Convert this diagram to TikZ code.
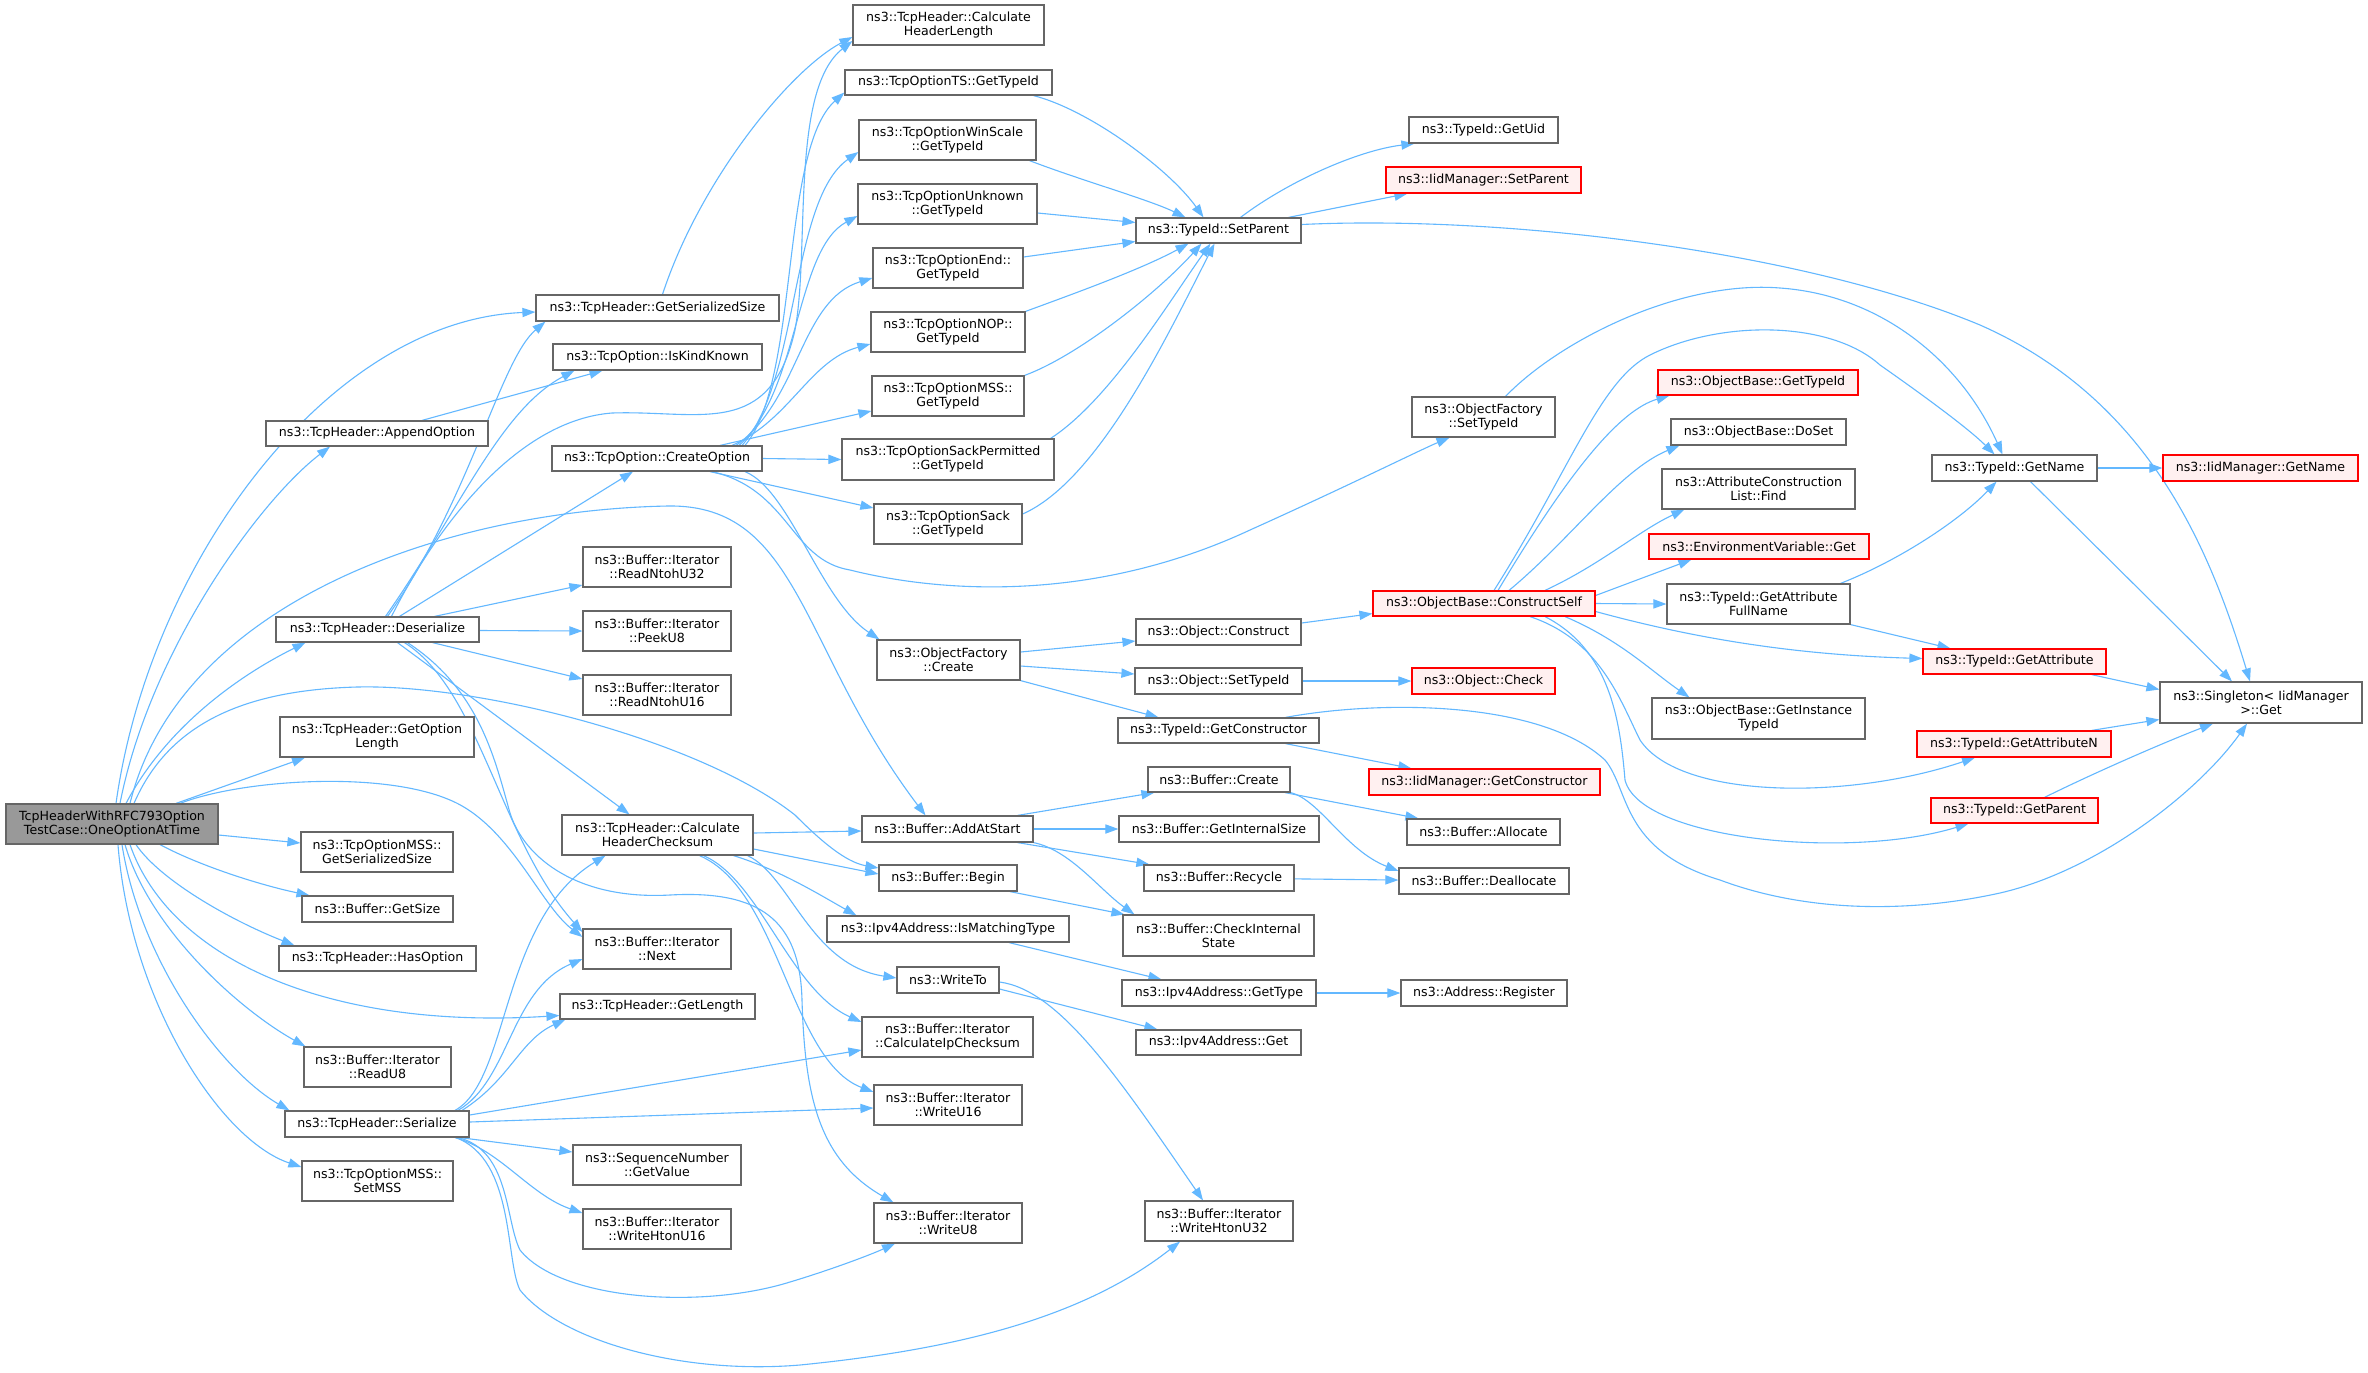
\documentclass[tikz,border=0pt]{standalone}
\usepackage{fontspec}
\setmainfont{DejaVu Sans}
\usetikzlibrary{arrows.meta,calc,backgrounds}
\definecolor{edgc}{HTML}{63B8FF}
\definecolor{bordc}{HTML}{666666}
\definecolor{redfill}{HTML}{FFF0F0}
\definecolor{rootfill}{HTML}{999999}
\tikzset{
  nbox/.style={draw=bordc, fill=white, line width=0.6pt, inner sep=0pt, align=center, font=\fontsize{6.3}{7}\selectfont},
  rbox/.style={nbox, draw=red, fill=redfill},
  gbox/.style={nbox, fill=rootfill},
  edg/.style={draw=edgc, line width=0.55pt, -{Triangle[length=6.5pt,width=4.6pt]}}
}
\newcommand\mkbox[7][nbox]{\node[#1, minimum width={(#4-#2)*0.5pt}, minimum height={(#5-#3)*0.5pt}] (#6) at ({(#2+#4)/2},{(#3+#5)/2}) {#7};}
\begin{document}
\begin{tikzpicture}[x=0.5pt,y=-0.5pt]
\useasboundingbox (0,0) rectangle (2368,1372);
% column 1
\mkbox[gbox]{6}{804}{218}{844}{root}{TcpHeaderWithRFC793Option\\TestCase::OneOptionAtTime}
% column 2
\mkbox{266}{421}{488}{446}{app}{ns3::TcpHeader::AppendOption}
\mkbox{276}{617}{479}{642}{des}{ns3::TcpHeader::Deserialize}
\mkbox{280}{717}{474}{757}{gol}{ns3::TcpHeader::GetOption\\Length}
\mkbox{301}{832}{453}{872}{mssgss}{ns3::TcpOptionMSS::\\GetSerializedSize}
\mkbox{302}{896}{453}{922}{gsz}{ns3::Buffer::GetSize}
\mkbox{279}{946}{476}{971}{hso}{ns3::TcpHeader::HasOption}
\mkbox{304}{1047}{451}{1087}{ru8}{ns3::Buffer::Iterator\\::ReadU8}
\mkbox{285}{1111}{469}{1137}{ser}{ns3::TcpHeader::Serialize}
\mkbox{302}{1161}{453}{1201}{smss}{ns3::TcpOptionMSS::\\SetMSS}
% column 3
\mkbox{536}{295}{779}{321}{gss}{ns3::TcpHeader::GetSerializedSize}
\mkbox{553}{344}{762}{370}{ikk}{ns3::TcpOption::IsKindKnown}
\mkbox{552}{446}{762}{471}{cro}{ns3::TcpOption::CreateOption}
\mkbox{583}{547}{731}{587}{rn32}{ns3::Buffer::Iterator\\::ReadNtohU32}
\mkbox{583}{611}{731}{651}{pk8}{ns3::Buffer::Iterator\\::PeekU8}
\mkbox{583}{675}{731}{715}{rn16}{ns3::Buffer::Iterator\\::ReadNtohU16}
\mkbox{562}{815}{753}{855}{chc}{ns3::TcpHeader::Calculate\\HeaderChecksum}
\mkbox{583}{929}{731}{969}{nxt}{ns3::Buffer::Iterator\\::Next}
\mkbox{560}{994}{755}{1019}{gln}{ns3::TcpHeader::GetLength}
\mkbox{573}{1145}{741}{1185}{sqv}{ns3::SequenceNumber\\::GetValue}
\mkbox{583}{1209}{731}{1249}{wh16}{ns3::Buffer::Iterator\\::WriteHtonU16}
% column 4
\mkbox{853}{5}{1044}{45}{chl}{ns3::TcpHeader::Calculate\\HeaderLength}
\mkbox{845}{70}{1052}{95}{ts}{ns3::TcpOptionTS::GetTypeId}
\mkbox{859}{120}{1036}{160}{ws}{ns3::TcpOptionWinScale\\::GetTypeId}
\mkbox{858}{184}{1037}{224}{unk}{ns3::TcpOptionUnknown\\::GetTypeId}
\mkbox{873}{248}{1023}{288}{end}{ns3::TcpOptionEnd::\\GetTypeId}
\mkbox{871}{312}{1025}{352}{nop}{ns3::TcpOptionNOP::\\GetTypeId}
\mkbox{872}{376}{1024}{416}{msst}{ns3::TcpOptionMSS::\\GetTypeId}
\mkbox{842}{439}{1054}{480}{sp}{ns3::TcpOptionSackPermitted\\::GetTypeId}
\mkbox{874}{504}{1022}{544}{sack}{ns3::TcpOptionSack\\::GetTypeId}
\mkbox{877}{640}{1020}{680}{ofc}{ns3::ObjectFactory\\::Create}
\mkbox{862}{816}{1033}{842}{aas}{ns3::Buffer::AddAtStart}
\mkbox{879}{865}{1017}{891}{bgn}{ns3::Buffer::Begin}
\mkbox{827}{916}{1069}{942}{imt}{ns3::Ipv4Address::IsMatchingType}
\mkbox{897}{967}{999}{993}{wto}{ns3::WriteTo}
\mkbox{862}{1017}{1033}{1057}{cic}{ns3::Buffer::Iterator\\::CalculateIpChecksum}
\mkbox{874}{1085}{1022}{1125}{wu16}{ns3::Buffer::Iterator\\::WriteU16}
\mkbox{874}{1203}{1022}{1243}{wu8}{ns3::Buffer::Iterator\\::WriteU8}
% column 5
\mkbox{1136}{218}{1301}{243}{tsp}{ns3::TypeId::SetParent}
\mkbox{1136}{619}{1301}{645}{ocon}{ns3::Object::Construct}
\mkbox{1135}{668}{1302}{694}{osti}{ns3::Object::SetTypeId}
\mkbox{1118}{718}{1319}{743}{gcon}{ns3::TypeId::GetConstructor}
\mkbox{1148}{767}{1290}{792}{bcr}{ns3::Buffer::Create}
\mkbox{1119}{816}{1319}{842}{gis}{ns3::Buffer::GetInternalSize}
\mkbox{1144}{865}{1294}{891}{rcy}{ns3::Buffer::Recycle}
\mkbox{1123}{915}{1314}{956}{cis}{ns3::Buffer::CheckInternal\\State}
\mkbox{1122}{980}{1316}{1006}{gty}{ns3::Ipv4Address::GetType}
\mkbox{1136}{1030}{1301}{1055}{ipg}{ns3::Ipv4Address::Get}
\mkbox{1145}{1201}{1293}{1241}{wh32}{ns3::Buffer::Iterator\\::WriteHtonU32}
% column 6
\mkbox{1409}{117}{1558}{143}{uid}{ns3::TypeId::GetUid}
\mkbox[rbox]{1386}{167}{1581}{193}{imsp}{ns3::IidManager::SetParent}
\mkbox{1412}{397}{1555}{437}{ofst}{ns3::ObjectFactory\\::SetTypeId}
\mkbox[rbox]{1373}{591}{1595}{616}{csf}{ns3::ObjectBase::ConstructSelf}
\mkbox[rbox]{1412}{668}{1555}{694}{ochk}{ns3::Object::Check}
\mkbox[rbox]{1369}{769}{1600}{795}{imgc}{ns3::IidManager::GetConstructor}
\mkbox{1407}{819}{1560}{845}{alc}{ns3::Buffer::Allocate}
\mkbox{1399}{868}{1569}{894}{dal}{ns3::Buffer::Deallocate}
\mkbox{1401}{980}{1567}{1006}{reg}{ns3::Address::Register}
% column 7
\mkbox[rbox]{1658}{370}{1858}{395}{obgt}{ns3::ObjectBase::GetTypeId}
\mkbox{1671}{419}{1846}{445}{dos}{ns3::ObjectBase::DoSet}
\mkbox{1662}{469}{1855}{509}{acf}{ns3::AttributeConstruction\\List::Find}
\mkbox[rbox]{1649}{534}{1869}{559}{env}{ns3::EnvironmentVariable::Get}
\mkbox{1667}{584}{1850}{624}{gafn}{ns3::TypeId::GetAttribute\\FullName}
\mkbox{1652}{698}{1865}{739}{git}{ns3::ObjectBase::GetInstance\\TypeId}
% column 8
\mkbox{1932}{455}{2097}{481}{gnm}{ns3::TypeId::GetName}
\mkbox[rbox]{1923}{649}{2106}{674}{gat}{ns3::TypeId::GetAttribute}
\mkbox[rbox]{1917}{731}{2111}{757}{gan}{ns3::TypeId::GetAttributeN}
\mkbox[rbox]{1931}{798}{2098}{823}{gpr}{ns3::TypeId::GetParent}
% column 9
\mkbox[rbox]{2163}{455}{2358}{481}{imgn}{ns3::IidManager::GetName}
\mkbox{2160}{682}{2362}{723}{sgl}{ns3::Singleton< IidManager\\ >::Get}

\begin{pgfonlayer}{background}
\fill[white] (0,0) rectangle (2368,1372);
% root
\draw[edg] ($(root.north)+(4,0)$) .. controls (150,560) and (330,320) .. ($(gss.west)+(0,4)$);
\draw[edg] ($(root.north)+(8,0)$) .. controls (150,650) and (260,500) .. ($(app.south)+(-47,0)$);
\draw[edg] ($(root.north)+(14,0)$) .. controls (170,720) and (250,670) .. ($(des.south)+(-72,0)$);
\draw[edg] ($(root.north)+(18,0)$) .. controls (180,600) and (450,510) .. (668,506) .. controls (800,504) and (800,650) .. ($(aas.north)+(-22,0)$);
\draw[edg] ($(root.north)+(22,0)$) .. controls (170,720) and (250,690) .. (357,687) .. controls (480,684) and (700,740) .. (795,815) .. controls (820,840) and (845,862) .. ($(bgn.west)+(0,-10)$);
\draw[edg] ($(root.north)+(64,0)$) -- ($(gol.south)+(-72,0)$);
\draw[edg] ($(root.north)+(68,0)$) .. controls (240,780) and (380,770) .. (450,800) .. controls (510,825) and (540,905) .. ($(nxt.west)+(0,-12)$);
\draw[edg] ($(root.east)+(0,11)$) -- ($(mssgss.west)+(0,-9)$);
\draw[edg] ($(root.south)+(48,0)$) .. controls (200,866) and (260,885) .. ($(gsz.north)+(-68,0)$);
\draw[edg] ($(root.south)+(24,0)$) .. controls (160,880) and (230,920) .. ($(hso.north)+(-83,0)$);
\draw[edg] ($(root.south)+(18,0)$) .. controls (170,960) and (330,1030) .. ($(gln.west)+(0,9)$);
\draw[edg] ($(root.south)+(13,0)$) .. controls (150,930) and (240,1010) .. ($(ru8.north west)+(2,0)$);
\draw[edg] ($(root.south)+(10,0)$) .. controls (140,960) and (220,1070) .. ($(ser.north west)+(5,0)$);
\draw[edg] ($(root.south)+(6,0)$) .. controls (130,1000) and (220,1140) .. ($(smss.west)+(0,-14)$);
% deserialize
\draw[edg] ($(des.north)+(10,0)$) .. controls (470,500) and (500,360) .. ($(gss.south west)+(10,0)$);
\draw[edg] ($(des.north)+(8,0)$) .. controls (460,510) and (500,410) .. ($(ikk.south west)+(22,0)$);
\draw[edg] ($(des.north)+(14,0)$) .. controls (440,520) and (520,420) .. (612,413) .. controls (700,410) and (770,440) .. (795,330) .. controls (810,250) and (790,90) .. ($(chl.west)+(0,16)$);
\draw[edg] ($(des.north)+(22,0)$) -- ($(cro.south)+(-24,0)$);
\draw[edg] ($(des.north)+(57,0)$) -- ($(rn32.west)+(0,18)$);
\draw[edg] ($(des.east)+(0,1)$) -- (pk8.west);
\draw[edg] ($(des.south)+(55,0)$) -- ($(rn16.west)+(0,-16)$);
\draw[edg] ($(des.south)+(20,0)$) -- ($(chc.north)+(-28,0)$);
\draw[edg] ($(des.south)+(27,0)$) .. controls (480,690) and (500,840) .. ($(nxt.west)+(0,-17)$);
\draw[edg] ($(des.south)+(30,0)$) .. controls (480,690) and (495,760) .. (510,813) .. controls (525,860) and (580,900) .. (670,895) .. controls (760,890) and (800,920) .. (802,1000) .. controls (805,1100) and (820,1160) .. ($(wu8.north west)+(20,0)$);
% append, gss
\draw[edg] ($(app.north)+(45,0)$) -- ($(ikk.south)+(-55,0)$);
\draw[edg] ($(gss.north)+(5,0)$) .. controls (700,180) and (790,70) .. ($(chl.west)+(0,12)$);
% calculate header checksum
\draw[edg] ($(chc.east)+(0,-2)$) -- ($(aas.west)+(0,2)$);
\draw[edg] ($(chc.east)+(0,14)$) -- ($(bgn.west)+(0,-4)$);
\draw[edg] ($(chc.south)+(76,0)$) .. controls (780,870) and (820,895) .. ($(imt.north west)+(30,0)$);
\draw[edg] ($(chc.south)+(90,0)$) .. controls (790,875) and (810,965) .. ($(wto.west)+(0,-2)$);
\draw[edg] ($(chc.south)+(46,0)$) .. controls (760,880) and (790,990) .. ($(cic.west)+(0,-15)$);
\draw[edg] ($(chc.south)+(42,0)$) .. controls (780,890) and (790,1060) .. ($(wu16.west)+(0,-13)$);
% serialize
\draw[edg] ($(ser.north)+(78,0)$) .. controls (510,1080) and (500,920) .. ($(chc.south)+(-52,0)$);
\draw[edg] ($(ser.north)+(81,0)$) .. controls (510,1080) and (510,990) .. ($(nxt.west)+(0,10)$);
\draw[edg] ($(ser.north)+(85,0)$) .. controls (510,1080) and (520,1040) .. ($(gln.south west)+(6,0)$);
\draw[edg] ($(ser.east)+(0,-9)$) -- ($(cic.west)+(0,13)$);
\draw[edg] ($(ser.east)+(0,-2)$) -- ($(wu16.west)+(0,3)$);
\draw[edg] ($(ser.south)+(83,0)$) -- ($(sqv.west)+(0,-13)$);
\draw[edg] ($(ser.south)+(78,0)$) .. controls (500,1150) and (530,1195) .. ($(wh16.west)+(0,-16)$);
\draw[edg] ($(ser.south)+(81,0)$) .. controls (510,1150) and (505,1220) .. (520,1250) .. controls (560,1300) and (700,1310) .. (790,1282) .. controls (830,1270) and (870,1255) .. ($(wu8.south)+(-53,0)$);
\draw[edg] ($(ser.south)+(79,0)$) .. controls (515,1160) and (505,1260) .. (520,1290) .. controls (560,1340) and (680,1375) .. (800,1365) .. controls (950,1350) and (1080,1320) .. ($(wh32.south)+(-39,0)$);
% create option
\draw[edg] ($(cro.north)+(88,0)$) .. controls (800,380) and (780,150) .. ($(ts.west)+(0,10)$);
\draw[edg] ($(cro.north)+(85,0)$) .. controls (800,380) and (790,200) .. ($(ws.west)+(0,12)$);
\draw[edg] ($(cro.north)+(82,0)$) .. controls (800,390) and (795,250) .. ($(unk.west)+(0,12)$);
\draw[edg] ($(cro.north)+(79,0)$) .. controls (800,400) and (800,300) .. ($(end.west)+(0,10)$);
\draw[edg] ($(cro.north)+(75,0)$) .. controls (790,420) and (810,360) .. ($(nop.west)+(0,12)$);
\draw[edg] ($(cro.north)+(63,0)$) -- ($(msst.west)+(0,15)$);
\draw[edg] (cro.east) -- (sp.west);
\draw[edg] ($(cro.south)+(53,0)$) -- ($(sack.west)+(0,-16)$);
\draw[edg] ($(cro.south)+(88,0)$) .. controls (790,490) and (820,600) .. ($(ofc.north west)+(3,0)$);
\draw[edg] ($(cro.south)+(55,0)$) .. controls (790,490) and (790,560) .. (850,570) .. controls (950,595) and (1100,600) .. (1250,530) .. controls (1350,485) and (1420,450) .. ($(ofst.south)+(-34,0)$);
% GetTypeId -> SetParent
\draw[edg] ($(ts.south)+(85,0)$) .. controls (1090,110) and (1170,170) .. ($(tsp.north)+(-15,0)$);
\draw[edg] ($(ws.south)+(82,0)$) .. controls (1080,180) and (1150,200) .. ($(tsp.north)+(-33,0)$);
\draw[edg] ($(unk.east)+(0,9)$) -- ($(tsp.west)+(0,-8)$);
\draw[edg] ($(end.east)+(0,-11)$) -- ($(tsp.west)+(0,11)$);
\draw[edg] (nop.north east) .. controls (1070,295) and (1140,270) .. ($(tsp.south)+(-30,0)$);
\draw[edg] (msst.north east) .. controls (1080,355) and (1160,290) .. ($(tsp.south)+(-17,0)$);
\draw[edg] ($(sp.north east)+(-4,0)$) .. controls (1110,400) and (1170,300) .. ($(tsp.south)+(-8,0)$);
\draw[edg] ($(sack.east)+(0,-10)$) .. controls (1100,480) and (1170,330) .. ($(tsp.south)+(-4,0)$);
% SetParent
\draw[edg] ($(tsp.north)+(22,0)$) .. controls (1290,180) and (1360,150) .. ($(uid.south west)+(6,0)$);
\draw[edg] ($(tsp.north)+(70,0)$) -- ($(imsp.south west)+(22,0)$);
\draw[edg] ($(tsp.east)+(0,-6)$) .. controls (1500,215) and (1800,250) .. (1980,325) .. controls (2150,400) and (2210,550) .. ($(sgl.north)+(-11,0)$);
\draw[edg] ($(ofst.north)+(22,0)$) .. controls (1560,340) and (1680,280) .. (1780,288) .. controls (1880,295) and (1960,360) .. ($(gnm.north)+(-12,0)$);
% ConstructSelf
\draw[edg] ($(csf.north)+(10,0)$) .. controls (1570,470) and (1600,380) .. (1650,355) .. controls (1720,320) and (1830,320) .. (1880,365) .. controls (1930,400) and (1970,430) .. ($(gnm.north)+(-20,0)$);
\draw[edg] ($(csf.north)+(14,0)$) .. controls (1570,470) and (1620,410) .. ($(obgt.south west)+(12,0)$);
\draw[edg] ($(csf.north)+(25,0)$) .. controls (1570,540) and (1620,470) .. ($(dos.south west)+(9,0)$);
\draw[edg] ($(csf.north)+(61,0)$) .. controls (1600,565) and (1640,530) .. ($(acf.south west)+(23,0)$);
\draw[edg] ($(csf.east)+(0,-8)$) -- ($(env.south west)+(43,0)$);
\draw[edg] (csf.east) -- (gafn.west);
\draw[edg] ($(csf.east)+(0,8)$) .. controls (1700,640) and (1800,655) .. ($(gat.west)+(0,-3)$);
\draw[edg] ($(csf.south)+(81,0)$) .. controls (1620,640) and (1650,670) .. ($(git.north west)+(38,0)$);
\draw[edg] ($(csf.south)+(46,0)$) .. controls (1600,640) and (1620,700) .. (1640,740) .. controls (1680,800) and (1850,800) .. ($(gan.south)+(-39,0)$);
\draw[edg] ($(csf.south)+(61,0)$) .. controls (1610,650) and (1620,720) .. (1625,780) .. controls (1640,840) and (1850,860) .. ($(gpr.south)+(-46,0)$);
% attributes / names
\draw[edg] ($(gafn.north)+(82,0)$) .. controls (1900,560) and (1960,520) .. ($(gnm.south)+(-18,0)$);
\draw[edg] (gafn.south east) -- ($(gat.north)+(-64,0)$);
\draw[edg] (gnm) -- (imgn);
\draw[edg] ($(gnm.south)+(16,0)$) -- ($(sgl.north)+(-29,0)$);
\draw[edg] ($(gat.south east)+(-15,0)$) -- ($(sgl.west)+(0,-13)$);
\draw[edg] ($(gan.north east)+(-20,0)$) -- ($(sgl.west)+(0,17)$);
\draw[edg] ($(gpr.north)+(30,0)$) .. controls (2100,770) and (2170,740) .. ($(sgl.south)+(-48,0)$);
\draw[edg] ($(gcon.north)+(67,0)$) .. controls (1380,700) and (1540,700) .. (1605,760) .. controls (1630,790) and (1620,850) .. (1720,880) .. controls (1800,910) and (1900,915) .. (2000,893) .. controls (2100,870) and (2200,790) .. ($(sgl.south)+(-14,0)$);
\draw[edg] ($(gcon.south)+(67,0)$) -- ($(imgc.north west)+(43,0)$);
% object factory
\draw[edg] ($(ofc.east)+(0,-8)$) -- ($(ocon.west)+(0,9)$);
\draw[edg] ($(ofc.east)+(0,6)$) -- ($(osti.west)+(0,-7)$);
\draw[edg] (ofc.south east) -- ($(gcon.north)+(-60,0)$);
\draw[edg] ($(ocon.east)+(0,-9)$) -- ($(csf.south west)+(0,-3)$);
\draw[edg] (osti) -- (ochk);
% buffer
\draw[edg] ($(aas.north)+(70,0)$) -- ($(bcr.south west)+(7,0)$);
\draw[edg] (aas) -- (gis);
\draw[edg] ($(aas.south)+(70,0)$) -- ($(rcy.north west)+(6,0)$);
\draw[edg] (aas.south east) .. controls (1070,850) and (1100,890) .. ($(cis.north west)+(12,0)$);
\draw[edg] ($(bgn.south)+(62,0)$) -- ($(cis.north west)+(2,0)$);
\draw[edg] ($(bcr.south)+(66,0)$) -- ($(alc.north west)+(12,0)$);
\draw[edg] (bcr.south east) .. controls (1320,800) and (1345,850) .. ($(dal.west)+(0,-10)$);
\draw[edg] (rcy) -- (dal);
% ipv4
\draw[edg] ($(imt.south)+(61,0)$) -- ($(gty.north west)+(40,0)$);
\draw[edg] (gty) -- (reg);
\draw[edg] ($(wto.east)+(0,9)$) -- ($(ipg.north west)+(22,0)$);
\draw[edg] ($(wto.east)+(0,2)$) .. controls (1060,990) and (1120,1080) .. ($(wh32.north)+(-16,0)$);
\end{pgfonlayer}
\end{tikzpicture}
\end{document}
